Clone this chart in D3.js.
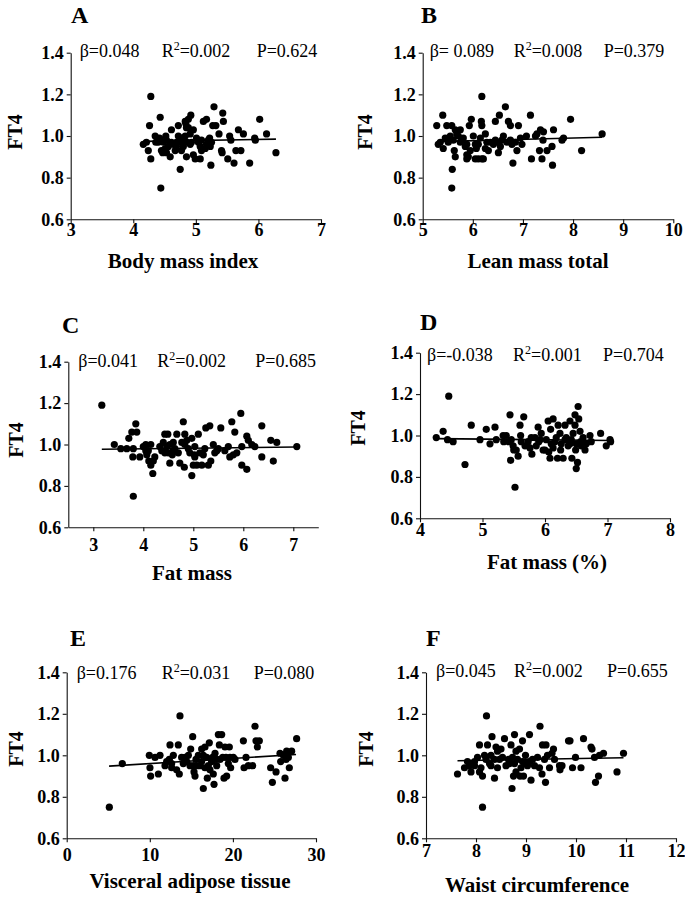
<!DOCTYPE html>
<html><head><meta charset="utf-8">
<script src="https://cdn.jsdelivr.net/npm/d3@7"></script>
<style>
body{margin:0;background:#fff;}
svg text{font-family:"Liberation Serif","Times New Roman",serif;}
</style></head>
<body><svg id="c" width="685" height="897"></svg>
<script>
// ---------- data ----------
const yTicks = [0.6, 0.8, 1.0, 1.2, 1.4];
const xTicksA = [3,4,5,6,7], xTicksB = [5,6,7,8,9,10], xTicksC = [3,4,5,6,7],
      xTicksD = [4,5,6,7,8], xTicksE = [0,10,20,30], xTicksF = [7,8,9,10,11,12];
const titles = ["A","B","C","D","E","F"];
const xLabels = ["Body mass index","Lean mass total","Fat mass","Fat mass (%)","Visceral adipose tissue","Waist circumference"];
const betas = ["β=0.048","β= 0.089","β=0.041","β=-0.038","β=0.176","β=0.045"];
const r2s = ["0.002","0.008","0.002","0.001","0.031","0.002"];
const ps = ["P=0.624","P=0.379","P=0.685","P=0.704","P=0.080","P=0.655"];

const ptsA = [[4.28,1.19],[4.43,1.09],[4.26,1.05],[4.16,0.96],[4.24,0.93],[4.28,0.89],[4.35,1.00],[4.44,0.75],[4.42,0.99],[4.48,0.97],[4.52,1.00],[4.45,0.93],[4.53,0.92],[4.59,0.90],[4.61,1.03],[4.75,0.84],[4.69,0.97],[4.72,1.05],[4.77,0.99],[4.83,1.07],[4.88,1.08],[4.92,1.10],[4.85,1.04],[4.91,1.01],[4.80,0.95],[4.85,0.90],[4.96,0.91],[4.99,0.89],[5.07,0.89],[4.93,0.97],[5.01,0.99],[5.09,0.98],[5.12,1.07],[5.17,1.08],[5.23,0.95],[5.24,0.86],[5.27,1.05],[5.29,1.14],[5.32,1.05],[5.22,0.99],[5.15,0.94],[5.37,1.01],[5.41,0.93],[5.43,1.11],[5.44,1.07],[5.42,0.92],[5.51,0.89],[5.54,1.00],[5.56,0.98],[5.61,0.87],[5.64,0.93],[5.72,0.93],[5.68,1.03],[5.76,1.01],[5.86,0.87],[5.94,0.99],[5.95,0.98],[6.02,1.08],[6.13,1.01],[6.28,0.92],[4.64,0.96],[4.67,0.93],[4.69,0.95],[4.75,0.97],[4.77,0.93],[4.80,0.98],[4.83,1.00],[4.88,1.04],[4.91,0.96],[4.86,0.97],[4.56,0.95],[4.51,0.94],[4.47,0.92],[4.40,0.97],[4.36,0.97],[4.21,0.97],[4.53,0.98],[4.72,1.00],[5.04,0.97],[5.07,0.95],[5.09,0.93],[5.17,0.96],[5.20,0.98],[5.25,0.97],[4.61,0.97],[4.96,1.03],[4.84,1.06]];
const ptsB = [[6.18,1.19],[5.40,1.10],[5.28,1.05],[5.48,1.05],[5.58,1.05],[5.65,1.03],[5.75,1.03],[5.45,0.99],[5.31,0.96],[5.41,0.94],[5.61,0.98],[5.63,0.93],[5.65,0.90],[5.59,0.84],[5.58,0.75],[5.68,1.01],[5.75,0.97],[5.81,0.99],[5.85,0.95],[5.88,0.91],[5.91,0.90],[5.93,1.05],[5.97,1.08],[6.01,1.00],[6.05,0.96],[6.07,0.94],[6.11,0.89],[6.18,0.89],[6.17,1.07],[6.18,1.05],[6.21,0.89],[6.25,1.01],[6.25,0.94],[6.31,0.93],[6.35,0.97],[6.41,0.96],[6.45,1.07],[6.49,0.97],[6.53,1.10],[6.51,0.92],[6.58,0.98],[6.61,1.00],[6.65,1.14],[6.71,1.07],[6.75,1.05],[6.75,0.98],[6.80,0.87],[6.85,0.97],[6.88,0.93],[6.91,1.05],[6.95,0.99],[6.98,0.96],[7.07,1.00],[7.15,1.10],[7.17,0.89],[7.25,1.00],[7.28,1.01],[7.33,0.93],[7.35,1.03],[7.38,0.89],[7.40,0.98],[7.41,1.02],[7.48,0.93],[7.58,0.95],[7.59,0.86],[7.61,1.03],[7.78,0.98],[7.81,0.99],[7.95,1.08],[8.17,0.93],[8.58,1.01],[5.35,0.97],[5.51,0.97],[5.55,1.00],[5.71,1.00],[5.78,0.98],[5.88,0.96],[5.95,0.93],[6.11,0.96],[6.15,0.99],[6.28,0.97],[6.45,0.98],[6.55,0.95],[6.68,0.97],[6.78,0.96],[5.88,0.89],[6.05,0.89]];
const ptsC = [[3.17,1.19],[3.42,1.00],[3.55,0.98],[3.67,0.98],[3.71,1.03],[3.77,1.06],[3.85,1.10],[3.87,1.06],[3.80,0.98],[3.79,0.94],[3.80,0.75],[3.93,0.94],[4.00,0.99],[4.05,1.00],[4.10,0.97],[4.15,1.00],[4.07,0.95],[4.11,0.92],[4.15,0.90],[4.20,0.92],[4.19,0.86],[4.23,0.94],[4.37,0.97],[4.40,1.01],[4.43,1.05],[4.49,1.05],[4.47,0.99],[4.43,0.96],[4.53,0.91],[4.58,0.95],[4.63,0.98],[4.67,1.05],[4.73,0.91],[4.80,1.11],[4.82,0.89],[4.83,1.05],[4.83,1.00],[4.87,1.02],[4.90,0.98],[4.97,1.03],[4.97,0.85],[5.00,0.90],[5.07,0.90],[5.02,0.95],[5.10,1.05],[5.13,0.96],[5.17,0.90],[5.20,0.95],[5.25,1.08],[5.30,0.90],[5.33,1.09],[5.35,0.92],[5.40,1.00],[5.47,0.97],[5.50,0.98],[5.55,1.08],[5.70,0.99],[5.73,0.94],[5.77,1.11],[5.80,0.95],[5.83,1.06],[5.87,0.96],[5.95,1.15],[5.97,0.99],[5.97,0.90],[6.07,1.04],[6.07,0.88],[6.10,1.02],[6.17,1.00],[6.23,0.99],[6.37,1.09],[6.37,0.94],[6.55,1.02],[6.60,0.92],[6.67,1.01],[7.07,0.99],[4.53,1.00],[4.60,0.97],[4.70,0.96],[4.77,1.01],[4.93,0.96],[5.03,0.99],[5.23,0.98],[5.43,0.96],[5.63,0.97],[4.50,0.96],[4.33,0.99],[4.05,0.97],[4.60,1.01],[5.03,0.94]];
const ptsD = [[4.46,1.19],[4.26,0.99],[4.37,1.02],[4.44,0.98],[4.53,0.97],[4.72,0.86],[4.82,1.05],[4.96,0.98],[5.06,1.03],[5.12,0.96],[5.20,1.04],[5.22,0.98],[5.33,1.00],[5.34,0.97],[5.38,1.00],[5.44,1.10],[5.42,0.97],[5.45,0.88],[5.49,0.95],[5.50,0.93],[5.52,0.75],[5.54,0.93],[5.57,0.90],[5.60,1.05],[5.61,1.00],[5.62,0.97],[5.66,1.09],[5.73,0.97],[5.76,0.94],[5.79,0.91],[5.84,0.99],[5.89,1.04],[5.90,0.97],[5.94,1.01],[5.97,0.93],[6.00,0.93],[6.02,0.98],[6.05,1.07],[6.08,0.89],[6.09,1.03],[6.13,1.08],[6.13,0.94],[6.16,0.97],[6.20,0.89],[6.21,1.05],[6.24,1.01],[6.26,0.96],[6.29,0.89],[6.32,1.05],[6.34,0.99],[6.37,0.95],[6.40,1.07],[6.43,0.89],[6.45,1.01],[6.48,1.10],[6.49,0.93],[6.50,0.84],[6.52,0.87],[6.53,1.14],[6.54,1.08],[6.56,1.02],[6.57,0.97],[6.58,0.95],[6.61,0.99],[6.64,0.93],[6.66,0.96],[6.72,1.00],[6.74,0.97],[6.89,1.01],[6.98,0.95],[7.04,0.98],[7.05,0.97],[5.46,0.98],[5.68,0.95],[5.78,0.99],[5.86,0.95],[5.92,0.98],[6.10,0.96],[6.18,0.99],[6.25,0.93],[6.32,0.98],[6.40,0.96],[6.42,0.98],[6.50,0.96],[6.48,1.05],[6.06,0.92]];
const ptsE = [[5.13,0.75],[6.69,0.96],[9.94,1.00],[10.02,0.94],[10.10,0.90],[10.63,0.99],[11.03,0.91],[11.23,1.00],[11.83,0.95],[12.35,0.98],[12.43,1.05],[12.63,0.94],[12.83,1.00],[13.23,0.93],[13.43,1.05],[13.55,0.91],[13.63,1.19],[13.83,0.99],[14.03,0.96],[14.24,0.99],[14.64,1.00],[14.92,1.03],[15.16,1.09],[15.24,0.95],[15.32,0.92],[15.44,0.90],[15.56,0.98],[15.84,1.00],[16.04,0.95],[16.24,1.03],[16.44,0.84],[16.64,1.04],[16.84,0.99],[16.92,0.89],[17.16,1.06],[17.24,0.93],[17.44,0.97],[17.64,0.91],[17.73,0.86],[17.85,1.01],[18.05,0.95],[18.25,1.10],[18.37,1.05],[18.65,1.10],[18.77,0.99],[18.93,0.89],[19.05,1.04],[19.25,0.90],[19.45,0.96],[19.57,1.04],[19.73,0.94],[20.05,0.99],[20.25,0.98],[21.26,1.07],[21.34,0.94],[21.58,0.99],[21.86,0.95],[22.38,0.95],[22.66,1.14],[22.78,1.07],[22.94,1.04],[23.18,1.07],[24.54,0.94],[24.75,0.87],[25.19,0.92],[25.67,1.01],[26.07,1.00],[26.27,0.89],[26.39,0.98],[26.67,0.99],[26.79,0.94],[27.07,1.02],[27.67,1.08],[14.44,0.97],[14.84,0.95],[15.64,0.95],[16.24,0.97],[16.44,1.00],[16.64,0.94],[17.04,0.95],[17.56,0.99],[17.97,0.98],[18.45,0.98],[19.17,0.99],[19.65,0.99],[12.63,0.96],[12.03,0.97],[25.75,0.97],[26.47,1.02]];
const ptsF = [[7.63,0.91],[7.77,0.94],[7.87,0.95],[7.90,0.92],[7.97,0.97],[8.03,0.99],[8.07,1.05],[8.07,0.92],[8.10,0.94],[8.13,0.90],[8.13,0.75],[8.17,1.00],[8.20,0.98],[8.21,1.19],[8.23,1.05],[8.27,0.96],[8.30,1.00],[8.32,1.09],[8.37,0.89],[8.40,1.04],[8.43,1.02],[8.47,0.98],[8.50,1.03],[8.53,0.99],[8.57,1.08],[8.60,0.95],[8.65,0.98],[8.70,1.05],[8.72,0.84],[8.75,0.90],[8.77,1.10],[8.77,0.96],[8.80,1.02],[8.83,0.98],[8.87,1.03],[8.88,0.90],[8.90,0.94],[8.93,1.07],[8.95,0.90],[8.99,1.00],[9.00,0.96],[9.03,0.95],[9.07,1.10],[9.10,0.88],[9.13,0.98],[9.17,0.95],[9.23,0.99],[9.28,1.14],[9.32,0.91],[9.33,1.05],[9.37,0.98],[9.39,0.87],[9.40,1.05],[9.43,1.00],[9.47,0.94],[9.52,1.01],[9.55,1.03],[9.57,0.98],[9.67,0.95],[9.68,0.93],[9.72,0.95],[9.85,1.07],[9.88,1.07],[9.93,0.94],[9.99,0.99],[10.10,0.94],[10.15,1.08],[10.30,1.04],[10.32,1.03],[10.37,0.99],[10.39,0.87],[10.45,0.90],[10.47,1.00],[10.55,1.01],[10.82,0.92],[10.95,1.01],[8.30,0.95],[8.37,0.98],[8.43,0.94],[8.67,0.96],[8.93,0.97],[9.07,0.97],[8.73,0.99],[7.97,0.95],[8.80,0.92],[9.27,0.94],[7.83,0.97]];

// regression line endpoints
const fitA = [[4.16,0.974],[6.28,0.985]];
const fitB = [[5.30,0.973],[8.58,0.994]];
const fitC = [[3.17,0.977],[7.07,0.988]];
const fitD = [[4.26,0.985],[7.05,0.976]];
const fitE = [[5.10,0.948],[27.6,1.004]];
const fitF = [[7.63,0.974],[10.95,0.988]];

// ---------- layout ----------
const panels = [
  {pts:ptsA, fit:fitA, xd:[3,7],   xt:xTicksA, x0:70.7, x1:321,   yb:219.3, yt:52.7,  tl:[71,23],   xlY:17, titleY:268, titleX:183, ft:[22,132], ann:[9,91,186], annDy:4},
  {pts:ptsB, fit:fitB, xd:[5,10],  xt:xTicksB, x0:422.7,x1:673.3, yb:219.3, yt:52.7,  tl:[421,23],  xlY:17, titleY:268, titleX:538, ft:[372,132], ann:[7,91,181], annDy:4},
  {pts:ptsC, fit:fitC, xd:[2.5,7.5],xt:xTicksC,x0:68.3, x1:318.3, yb:527.3, yt:361.7, tl:[62,333],  xlY:24, titleY:580, titleX:192, ft:[23,440], ann:[10,89,187], annDy:5},
  {pts:ptsD, fit:fitD, xd:[4,8],   xt:xTicksD, x0:420,  x1:670,   yb:518.3, yt:352.7, tl:[420,330], xlY:18, titleY:569, titleX:547, ft:[365,428], ann:[7,93,183], annDy:8},
  {pts:ptsE, fit:fitE, xd:[0,30],  xt:xTicksE, x0:66.7, x1:316,   yb:838.3, yt:672.3, tl:[70,646],  xlY:23, titleY:888, titleX:190, ft:[23,749], ann:[10,95,187], annDy:7},
  {pts:ptsF, fit:fitF, xd:[7,12],  xt:xTicksF, x0:426,  x1:676,   yb:838.3, yt:672.3, tl:[426,646], xlY:19, titleY:892, titleX:537, ft:[373,749], ann:[10,88,181], annDy:5}
];

const svg = d3.select("#c");
panels.forEach((p, i) => {
  const x = d3.scaleLinear().domain(p.xd).range([p.x0, p.x1]);
  const y = d3.scaleLinear().domain([0.6, 1.4]).range([p.yb, p.yt]);
  const g = svg.append("g");

  // axes
  const ya = g.append("g").attr("transform", `translate(${p.x0},0)`)
    .call(d3.axisLeft(y).tickValues(yTicks).tickFormat(d3.format(".1f")).tickSize(4).tickSizeOuter(0).tickPadding(3));
  const xa = g.append("g").attr("transform", `translate(0,${p.yb})`)
    .call(d3.axisBottom(x).tickValues(p.xt).tickFormat(d3.format("d")).tickSize(4).tickSizeOuter(0).tickPadding(0));
  [ya, xa].forEach(a => {
    a.selectAll("path,line").attr("stroke", "#111").attr("stroke-width", 1.1);
    a.selectAll("text").attr("fill", "#000").attr("font-size", 18).attr("font-weight", "bold")
      .attr("font-family", '"Liberation Serif","Times New Roman",serif');
  });
  xa.selectAll("text").attr("dy", null).attr("y", p.xlY);

  // points
  g.append("g").selectAll("circle").data(p.pts).join("circle")
    .attr("cx", d => x(d[0])).attr("cy", d => y(d[1])).attr("r", 3.6).attr("fill", "#000");

  // fit line
  g.append("path").datum(p.fit)
    .attr("d", d3.line().x(d => x(d[0])).y(d => y(d[1])))
    .attr("stroke", "#000").attr("stroke-width", 1.6).attr("fill", "none");

  // panel letter
  g.append("text").attr("x", p.tl[0]).attr("y", p.tl[1]).text(titles[i])
    .attr("font-size", 24).attr("font-weight", "bold");

  // FT4
  g.append("text").attr("transform", `translate(${p.ft[0]},${p.ft[1]}) rotate(-90)`)
    .attr("text-anchor", "middle").attr("font-size", 20).attr("font-weight", "bold").text("FT4");

  // x title
  g.append("text").attr("x", p.titleX).attr("y", p.titleY).attr("text-anchor", "middle")
    .attr("font-size", 21).attr("font-weight", "bold").text(xLabels[i]);

  // annotations
  const ay = p.yt + p.annDy;
  g.append("text").attr("x", p.x0 + p.ann[0]).attr("y", ay).attr("font-size", 18).text(betas[i]);
  const r = g.append("text").attr("x", p.x0 + p.ann[1]).attr("y", ay).attr("font-size", 18);
  r.append("tspan").text("R");
  r.append("tspan").attr("font-size", 12).attr("dy", -7).text("2");
  r.append("tspan").attr("dy", 7).text("=" + r2s[i]);
  g.append("text").attr("x", p.x0 + p.ann[2]).attr("y", ay).attr("font-size", 18).text(ps[i]);
});
</script></body></html>
